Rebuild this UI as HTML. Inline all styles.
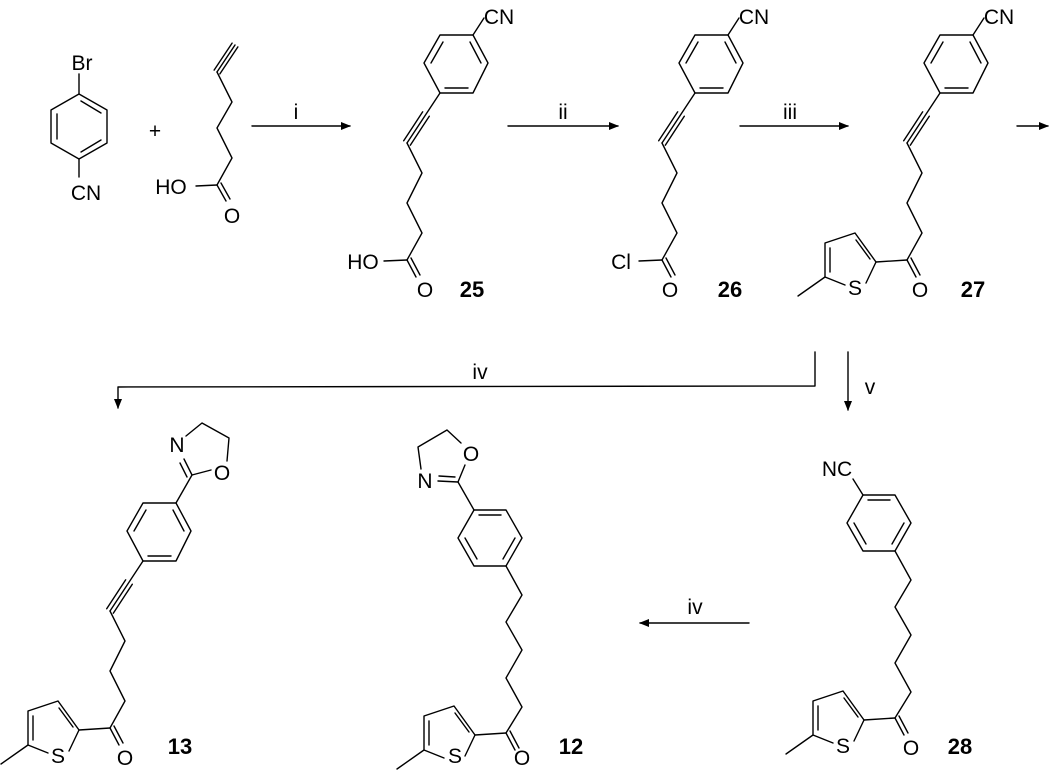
<!DOCTYPE html>
<html><head><meta charset="utf-8"><style>
html,body{margin:0;padding:0;background:#fff}
svg{display:block}
text{font-family:"Liberation Sans",Arial,sans-serif;font-size:21px;fill:#000}
.n{font-weight:bold;font-size:22px}
</style></head><body>
<svg width="1050" height="771" viewBox="0 0 1050 771" xmlns="http://www.w3.org/2000/svg">
<defs>
<marker id="ah" markerWidth="10" markerHeight="8" refX="9" refY="4" orient="auto" markerUnits="userSpaceOnUse">
<path d="M0,0 L10,4 L0,8 Z" fill="#000"/></marker>
</defs>
<g stroke="#000" stroke-width="1.4" fill="none" stroke-linecap="round" stroke-linejoin="round">

<polygon points="79,94 107,110 107,143 79,159 51,143 51,110"/>
<line x1="81" y1="101" x2="101" y2="113"/>
<line x1="57" y1="114" x2="57" y2="139"/>
<line x1="101" y1="140" x2="81" y2="152"/>
<line x1="79" y1="94" x2="79" y2="74"/>
<line x1="79" y1="159" x2="79" y2="177"/>

<line x1="217" y1="72" x2="235" y2="45"/>
<line x1="219.9" y1="73.9" x2="237.9" y2="46.9"/>
<line x1="214.1" y1="70.1" x2="232.1" y2="43.1"/>
<polyline points="217,72 232,102 217,128 232,158 217,185"/>
<line x1="196" y1="186" x2="217" y2="185"/>
<line x1="217" y1="185" x2="226" y2="201"/>
<line x1="221" y1="183" x2="230" y2="199"/>

<line x1="252" y1="126" x2="350" y2="126" marker-end="url(#ah)"/>
<line x1="508" y1="126" x2="618" y2="126" marker-end="url(#ah)"/>
<line x1="740" y1="126" x2="848" y2="126" marker-end="url(#ah)"/>
<line x1="1017" y1="126" x2="1048" y2="126" marker-end="url(#ah)"/>

<g>
<polygon points="940,35 973,35 988,63 973,93 940,93 924,63"/>
<line x1="970" y1="42" x2="981" y2="63"/>
<line x1="968" y1="88" x2="945" y2="88"/>
<line x1="943" y1="42" x2="931" y2="63"/>
<line x1="940" y1="93" x2="907" y2="143"/>
<line x1="910.3" y1="145.2" x2="929.3" y2="116.2"/>
<line x1="903.7" y1="140.8" x2="922.7" y2="111.8"/>
<polyline points="907,143 922,173 907,203 922,233 907,260"/>
<line x1="907" y1="260" x2="916" y2="277"/>
<line x1="911" y1="258" x2="920" y2="275"/>
<line x1="973" y1="35" x2="984" y2="18"/>
<line x1="907" y1="260" x2="876" y2="262"/>
<polyline points="866,283 876,262 855,233 825,243 825,277 845,285"/>
<line x1="870" y1="259" x2="856" y2="240"/>
<line x1="830" y1="248" x2="830" y2="272"/>
<line x1="825" y1="277" x2="798" y2="296"/>
</g>

<g transform="translate(-500,0)">
<polygon points="940,35 973,35 988,63 973,93 940,93 924,63"/>
<line x1="970" y1="42" x2="981" y2="63"/>
<line x1="968" y1="88" x2="945" y2="88"/>
<line x1="943" y1="42" x2="931" y2="63"/>
<line x1="940" y1="93" x2="907" y2="143"/>
<line x1="910.3" y1="145.2" x2="929.3" y2="116.2"/>
<line x1="903.7" y1="140.8" x2="922.7" y2="111.8"/>
<polyline points="907,143 922,173 907,203 922,233 907,260"/>
<line x1="907" y1="260" x2="916" y2="277"/>
<line x1="911" y1="258" x2="920" y2="275"/>
<line x1="973" y1="35" x2="984" y2="18"/>
<line x1="884" y1="261" x2="907" y2="260"/>
</g>

<g transform="translate(-245,0)">
<polygon points="940,35 973,35 988,63 973,93 940,93 924,63"/>
<line x1="970" y1="42" x2="981" y2="63"/>
<line x1="968" y1="88" x2="945" y2="88"/>
<line x1="943" y1="42" x2="931" y2="63"/>
<line x1="940" y1="93" x2="907" y2="143"/>
<line x1="910.3" y1="145.2" x2="929.3" y2="116.2"/>
<line x1="903.7" y1="140.8" x2="922.7" y2="111.8"/>
<polyline points="907,143 922,173 907,203 922,233 907,260"/>
<line x1="907" y1="260" x2="916" y2="277"/>
<line x1="911" y1="258" x2="920" y2="275"/>
<line x1="973" y1="35" x2="984" y2="18"/>
<line x1="884" y1="261" x2="907" y2="260"/>
</g>

<g transform="translate(-797,468)">
<polygon points="940,35 973,35 988,63 973,93 940,93 924,63"/>
<line x1="970" y1="42" x2="981" y2="63"/>
<line x1="968" y1="88" x2="945" y2="88"/>
<line x1="943" y1="42" x2="931" y2="63"/>
<line x1="940" y1="93" x2="907" y2="143"/>
<line x1="910.3" y1="145.2" x2="929.3" y2="116.2"/>
<line x1="903.7" y1="140.8" x2="922.7" y2="111.8"/>
<polyline points="907,143 922,173 907,203 922,233 907,260"/>
<line x1="907" y1="260" x2="916" y2="277"/>
<line x1="911" y1="258" x2="920" y2="275"/>
<line x1="907" y1="260" x2="876" y2="262"/>
<polyline points="866,283 876,262 855,233 825,243 825,277 845,285"/>
<line x1="870" y1="259" x2="856" y2="240"/>
<line x1="830" y1="248" x2="830" y2="272"/>
<line x1="825" y1="277" x2="798" y2="296"/>
</g>
<line x1="176" y1="503" x2="192" y2="475"/>
<line x1="192" y1="475" x2="184" y2="459"/>
<line x1="187" y1="477" x2="180" y2="463"/>
<polyline points="186,436 202,423 229,438 227,461"/>
<line x1="192" y1="475" x2="211" y2="470"/>

<polyline points="815,352 815,386 118,387 118,408" marker-end="url(#ah)"/>
<line x1="848" y1="352" x2="848" y2="410" marker-end="url(#ah)"/>
<line x1="749" y1="623" x2="640" y2="623" marker-end="url(#ah)"/>

<g>
<polygon points="863,495 895,495 911,523 895,551 863,551 847,523"/>
<line x1="868" y1="500" x2="890" y2="500"/>
<line x1="904" y1="523" x2="892" y2="544"/>
<line x1="866" y1="544" x2="854" y2="523"/>
<polyline points="895,551 911,580 895,607 911,635 895,663 911,692 895,718"/>
<line x1="895" y1="718" x2="904" y2="735"/>
<line x1="899" y1="716" x2="908" y2="733"/>
<g transform="translate(-12,458)">
<line x1="907" y1="260" x2="876" y2="262"/>
<polyline points="866,283 876,262 855,233 825,243 825,277 845,285"/>
<line x1="870" y1="259" x2="856" y2="240"/>
<line x1="830" y1="248" x2="830" y2="272"/>
<line x1="825" y1="277" x2="798" y2="296"/>
</g>
</g>
<line x1="863" y1="495" x2="853" y2="479"/>

<g transform="translate(-389,15)">
<polygon points="863,495 895,495 911,523 895,551 863,551 847,523"/>
<line x1="868" y1="500" x2="890" y2="500"/>
<line x1="904" y1="523" x2="892" y2="544"/>
<line x1="866" y1="544" x2="854" y2="523"/>
<polyline points="895,551 911,580 895,607 911,635 895,663 911,692 895,718"/>
<line x1="895" y1="718" x2="904" y2="735"/>
<line x1="899" y1="716" x2="908" y2="733"/>
<g transform="translate(-12,458)">
<line x1="907" y1="260" x2="876" y2="262"/>
<polyline points="866,283 876,262 855,233 825,243 825,277 845,285"/>
<line x1="870" y1="259" x2="856" y2="240"/>
<line x1="830" y1="248" x2="830" y2="272"/>
<line x1="825" y1="277" x2="798" y2="296"/>
</g>
</g>
<line x1="474" y1="510" x2="458" y2="482"/>
<line x1="458" y1="482" x2="438" y2="481"/>
<line x1="455" y1="477" x2="439" y2="476"/>
<polyline points="421,469 418,447 447,430 461,443"/>
<line x1="458" y1="482" x2="465" y2="465"/>
</g>

<g text-anchor="middle">
<text x="82" y="70">Br</text>
<text x="86" y="200">CN</text>
<text x="155" y="138">+</text>
<text x="171" y="194">HO</text>
<text x="232" y="223">O</text>
<text x="296" y="119">i</text>
<text x="563" y="119">ii</text>
<text x="790" y="119">iii</text>

<text x="499" y="24">CN</text>
<text x="363" y="269">HO</text>
<text x="425" y="297">O</text>
<text x="472" y="297" class="n">25</text>

<text x="754" y="24">CN</text>
<text x="621" y="269">Cl</text>
<text x="670" y="297">O</text>
<text x="730" y="297" class="n">26</text>

<text x="999" y="24">CN</text>
<text x="855" y="295">S</text>
<text x="920" y="297">O</text>
<text x="973" y="297" class="n">27</text>

<text x="480" y="379">iv</text>
<text x="870" y="394">v</text>
<text x="695" y="614">iv</text>

<text x="177" y="452">N</text>
<text x="222" y="480">O</text>
<text x="58" y="763">S</text>
<text x="125" y="765">O</text>
<text x="180" y="754" class="n">13</text>

<text x="425" y="488">N</text>
<text x="471" y="461">O</text>
<text x="455" y="763">S</text>
<text x="522" y="765">O</text>
<text x="571" y="754" class="n">12</text>

<text x="837" y="476">NC</text>
<text x="843" y="753">S</text>
<text x="911" y="755">O</text>
<text x="960" y="754" class="n">28</text>
</g>
</svg>
</body></html>
